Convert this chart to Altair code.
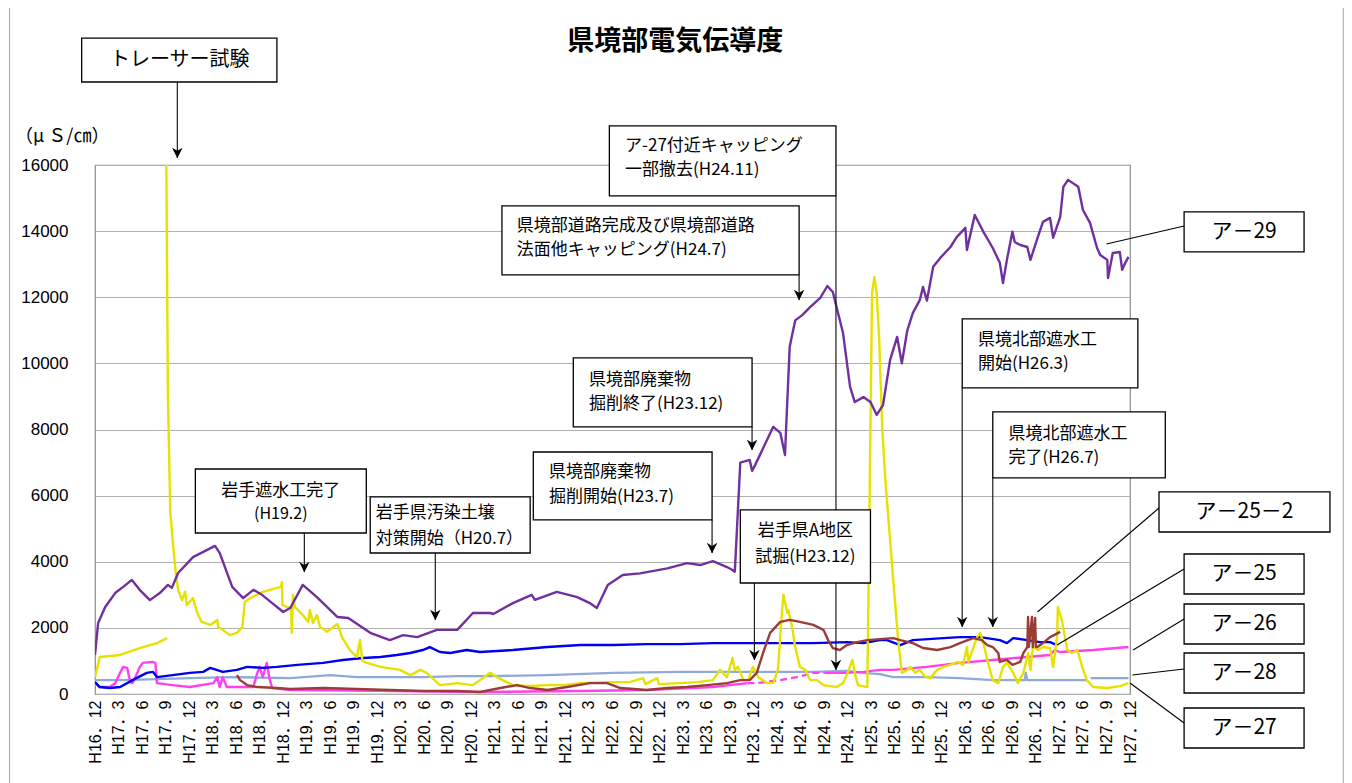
import altair as alt
import pandas as pd

# ---------------- data (month index: 0 = H16.12, step 1 month; values in µS/cm) -------------
TICK_LABELS = [
    "H16．12", "H17．3", "H17．6", "H17．9", "H17．12", "H18．3", "H18．6", "H18．9", "H18．12",
    "H19．3", "H19．6", "H19．9", "H19．12", "H20．3", "H20．6", "H20．9", "H20．12",
    "H21．3", "H21．6", "H21．9", "H21．12", "H22．3", "H22．6", "H22．9", "H22．12",
    "H23．3", "H23．6", "H23．9", "H23．12", "H24．3", "H24．6", "H24．9", "H24．12",
    "H25．3", "H25．6", "H25．9", "H25．12", "H26．3", "H26．6", "H26．9", "H26．12",
    "H27．3", "H27．6", "H27．9", "H27．12",
]
Y_TICKS = [0, 2000, 4000, 6000, 8000, 10000, 12000, 14000, 16000]

A29 = [(0, 1180), (0.4, 2150), (1.3, 2630), (2.6, 3060), (3.6, 3240), (4.7, 3450), (5.7, 3150),
       (7.0, 2840), (8.3, 3060), (9.3, 3300), (9.8, 3210), (10.6, 3660), (12.5, 4140), (15.3, 4480),
       (15.9, 4270), (17.5, 3240), (18.9, 2900), (20.2, 3150), (21.3, 3000), (22.6, 2750), (24.0, 2480),
       (24.9, 2600), (26.5, 3300), (28.3, 2930), (30.9, 2330), (32.3, 2300), (35.1, 1850), (37.6, 1630),
       (39.3, 1780), (41.1, 1720), (43.6, 1940), (46.2, 1940), (48.2, 2450), (50.4, 2450), (50.8, 2420),
       (53.3, 2750), (55.7, 3000), (56.1, 2850), (58.9, 3090), (61.5, 2930), (63.1, 2750), (64.0, 2600),
       (65.4, 3300), (67.3, 3600), (69.5, 3650), (73.0, 3800), (75.5, 3960), (77.2, 3900), (78.8, 4020),
       (80.6, 3840), (81.3, 3750), (81.6, 3700), (82.3, 7000), (83.5, 7080), (83.8, 6750), (84.2, 6930),
       (86.5, 8080), (87.4, 7900), (88.0, 7230), (88.3, 8900), (88.6, 10500), (89.3, 11300),
       (90.2, 11460), (91.2, 11700), (92.5, 11980), (93.4, 12340), (94.1, 12160), (95.4, 10920),
       (96.3, 9290), (96.9, 8830), (98.0, 8980), (98.9, 8830), (99.7, 8440), (100.5, 8740),
       (101.4, 10100), (102.3, 10800), (102.9, 10000), (103.6, 11000), (104.3, 11520), (105.2, 11920),
       (105.6, 12310), (106.1, 11900), (106.9, 12920), (107.8, 13190), (109.1, 13520), (109.9, 13820),
       (111.0, 14100), (111.2, 13430), (112.0, 14280), (112.2, 14490), (113.3, 13980), (114.5, 13490),
       (115.4, 13040), (115.8, 12430), (116.3, 13130), (117.0, 13980), (117.3, 13670), (118.0, 13580),
       (118.9, 13520), (119.3, 13130), (120.2, 13790), (120.9, 14280), (121.8, 14400), (122.2, 13800),
       (123.1, 14430), (123.5, 15340), (124.1, 15550), (125.4, 15340), (126.0, 14640), (126.9, 14250),
       (127.8, 13490), (128.2, 13280), (129.1, 13130), (129.2, 12580), (129.8, 13340), (130.7, 13370),
       (131.0, 12830), (131.4, 13040), (131.8, 13220)]

A27_PART1 = [(0, 510), (0.6, 1120), (3.2, 1180), (5.7, 1390), (7.9, 1540), (9.2, 1690)]
A27_PART2 = [(9.1, 16000), (9.3, 9000), (9.6, 5500), (9.9, 4660), (10.3, 3660), (10.6, 3150),
             (11.1, 2840), (11.5, 3090), (11.7, 2690), (12.5, 2900), (13.0, 2480), (13.6, 2180),
             (14.7, 2090), (15.6, 2240), (15.7, 2030), (16.3, 1940), (17.2, 1780), (18.1, 1850),
             (18.8, 2030), (19.1, 2780), (19.8, 2900), (21.4, 3090), (23.2, 3210), (23.7, 3240),
             (23.85, 3390), (23.9, 2700), (24.5, 2630), (25.0, 2600), (25.1, 1850), (25.25, 3000),
             (25.5, 2630), (26.5, 2390), (27.2, 2180), (27.4, 2540), (27.8, 2150), (28.3, 2390),
             (28.7, 2030), (29.6, 1880), (30.9, 2120), (31.5, 1720), (32.5, 1330), (33.4, 1120),
             (33.8, 1630), (34.1, 1000), (34.7, 940), (36.4, 820), (38.9, 730), (40.2, 570), (41.5, 730),
             (42.3, 640), (44.0, 270), (46.2, 330), (48.2, 270), (49.1, 420), (50.4, 640), (51.3, 510),
             (52.0, 420), (53.3, 270), (55.5, 240), (57.7, 270), (59.7, 270), (61.9, 330), (65.3, 360),
             (68.2, 360), (69.9, 480), (70.2, 300), (71.7, 480), (71.9, 300), (74.6, 330), (76.8, 360),
             (78.8, 420), (79.7, 730), (80.6, 510), (81.3, 1090), (81.6, 730), (82.0, 820), (82.7, 420),
             (83.3, 420), (83.9, 820), (84.6, 510), (85.7, 330), (86.5, 330), (87.1, 730), (87.6, 2450),
             (87.8, 3000), (88.3, 2450), (88.4, 2540), (88.9, 2030), (89.3, 1420), (89.9, 820),
             (90.6, 730), (91.2, 420), (92.1, 420), (92.9, 270), (94.6, 210), (95.4, 330), (96.0, 640),
             (96.6, 1030), (96.9, 640), (97.3, 270), (98.5, 210), (98.9, 8080), (99.1, 12130),
             (99.4, 12610), (99.7, 12100), (100.0, 10800), (100.4, 8080), (100.8, 6470), (101.8, 3450),
             (102.4, 1720), (102.9, 640), (103.6, 730), (104.0, 820), (104.6, 640), (105.2, 730),
             (105.9, 510), (106.5, 480), (107.4, 730), (108.2, 820), (109.1, 880), (110.0, 970),
             (110.7, 880), (111.2, 1420), (111.4, 970), (111.9, 1330), (112.5, 1720), (112.9, 1850),
             (113.3, 1540), (113.8, 1030), (114.5, 420), (115.2, 330), (115.8, 820), (116.3, 940),
             (117.1, 640), (117.7, 330), (118.4, 640), (119.0, 1240), (119.3, 730), (119.6, 1420),
             (120.3, 1330), (120.9, 1420), (121.8, 1390), (122.2, 820), (122.7, 1720), (122.8, 2630),
             (123.3, 2240), (124.0, 1330), (124.6, 1240), (125.3, 1330), (125.9, 820), (126.5, 420),
             (127.3, 210), (129.1, 180), (130.7, 240), (131.8, 330)]

A25_2 = [(18.1, 570), (18.5, 420), (19.4, 270), (20.7, 210), (23.2, 180), (24.9, 150), (29.1, 180),
         (33.4, 150), (37.6, 120), (41.8, 90), (46.2, 90), (49.1, 60), (51.7, 180), (53.8, 270),
         (55.5, 180), (57.7, 120), (60.2, 210), (63.1, 330), (65.3, 330), (67.0, 180), (70.4, 120),
         (73.0, 180), (75.5, 210), (78.1, 270), (80.6, 330), (82.3, 420), (83.5, 420), (84.4, 640),
         (85.2, 1240), (86.1, 1850), (87.4, 2180), (88.6, 2240), (89.9, 2180), (91.6, 2090),
         (92.9, 1940), (93.5, 1630), (94.1, 1390), (95.0, 1330), (95.9, 1480), (97.2, 1570),
         (98.5, 1630), (100.1, 1660), (101.8, 1690), (102.7, 1630), (104.3, 1540), (105.6, 1390),
         (107.4, 1330), (109.1, 1420), (110.3, 1540), (112.0, 1690), (113.1, 1630), (113.8, 1480),
         (114.5, 1420), (115.2, 1240), (115.4, 970), (116.3, 1030), (117.0, 880), (118.0, 970),
         (118.4, 1240), (118.9, 1420), (119.0, 2330), (119.1, 1420), (119.5, 2330), (119.6, 1420),
         (119.9, 2300), (120.0, 1420), (120.2, 1420), (120.9, 1540), (121.8, 1720), (123.1, 1880)]

A25 = [(0, 360), (0.6, 210), (1.9, 180), (3.2, 210), (4.8, 420), (6.6, 640), (7.4, 670), (7.9, 510),
       (9.9, 570), (12.1, 640), (13.8, 670), (14.7, 790), (16.3, 670), (18.1, 730), (19.4, 820),
       (21.4, 790), (23.2, 820), (25.8, 880), (29.1, 940), (31.6, 1030), (34.2, 1090), (36.4, 1120),
       (38.5, 1180), (40.2, 1240), (41.8, 1330), (42.7, 1420), (44.0, 1270), (45.3, 1240), (47.4, 1330),
       (49.1, 1270), (53.3, 1330), (57.7, 1420), (61.9, 1480), (66.1, 1480), (70.4, 1510), (74.6, 1510),
       (78.8, 1540), (83.2, 1540), (87.4, 1540), (91.6, 1540), (95.9, 1570), (98.0, 1540),
       (100.1, 1630), (101.0, 1630), (102.7, 1480), (104.3, 1630), (108.2, 1690), (110.3, 1720),
       (112.9, 1720), (115.4, 1630), (116.3, 1540), (117.1, 1690), (118.9, 1630), (120.5, 1570),
       (121.8, 1570), (122.7, 1480)]

A26_PART1 = [(0, 330), (0.6, 210), (1.9, 210), (2.6, 330), (3.2, 640), (3.6, 820), (4.1, 790),
             (4.5, 360), (4.8, 330), (5.4, 640), (5.7, 820), (6.1, 940), (7.3, 970), (7.7, 940),
             (7.9, 330), (9.9, 270), (12.1, 210), (15.1, 330), (15.6, 510), (15.9, 210), (16.3, 510),
             (16.8, 210), (17.6, 210), (20.2, 210), (20.7, 640), (21.0, 820), (21.4, 510), (21.9, 940),
             (22.3, 420), (22.6, 180), (24.9, 120), (36.4, 100), (49.1, 60), (61.9, 90), (70.4, 120),
             (78.8, 210), (83.2, 330)]
A26_DASHED = [(83.2, 330), (84.4, 330), (87.4, 420), (89.5, 510), (91.6, 640), (93.0, 640)]
A26_PART3 = [(93.0, 640), (95.9, 640), (98.0, 670), (100.1, 730), (101.8, 730), (106.1, 820),
             (110.3, 940), (114.5, 1030), (118.9, 1120), (121.8, 1180), (122.4, 1330), (123.1, 1270),
             (127.3, 1330), (131.8, 1420)]

A28_PART1 = [(0, 420), (3.6, 420), (7.9, 450), (12.1, 480), (17.2, 510), (24.9, 480), (30.0, 570),
             (33.4, 510), (37.6, 510), (41.8, 510), (46.2, 540), (50.4, 540), (57.7, 570), (66.1, 640),
             (74.6, 670), (83.2, 670), (87.4, 670), (91.6, 670), (95.9, 700), (98.0, 640), (100.1, 600),
             (101.8, 510), (106.1, 510), (110.3, 480), (114.5, 420), (118.6, 420), (118.7, 640),
             (118.9, 420), (123.1, 420), (126.5, 420)]
A28_PART2 = [(127.0, 480), (131.8, 480)]

# draw order (first = bottom)
SEGMENTS = [
    ("ア-28", A28_PART1, False), ("ア-28", A28_PART2, False),
    ("ア-26", A26_PART1, False), ("ア-26", A26_DASHED, True), ("ア-26", A26_PART3, False),
    ("ア-25", A25, False),
    ("ア-27", A27_PART1, False), ("ア-27", A27_PART2, False),
    ("ア-25-2", A25_2, False),
    ("ア-29", A29, False),
]
COLORS = {"ア-29": "#7030A0", "ア-27": "#E6E200", "ア-25-2": "#993D36",
          "ア-25": "#0000F0", "ア-26": "#FF3FF0", "ア-28": "#8EAADC"}

# ---------------- annotations (in axis units: month index, µS/cm) ----------------
BOXES = [(-1.7, 23.2, 19840, 18510), (12.8, 34.6, 6806, 4870), (35.1, 55.5, 5960, 4265),
         (55.9, 78.7, 7320, 5264), (61.0, 83.8, 10164, 8077), (51.9, 89.8, 14762, 12675),
         (65.6, 94.5, 17182, 15065), (82.3, 98.9, 5566, 3358), (110.6, 133.0, 11344, 9257),
         (114.5, 136.5, 8531, 6534)]
BOX_TEXT = [
    (10.8, 19180, "トレーサー試験", "center", 20),
    (23.7, 6140, "岩手遮水工完了", "center", 17),
    (23.7, 5445, "(H19.2)", "center", 16),
    (35.8, 5475, "岩手県汚染土壌", "left", 17),
    (35.8, 4690, "対策開始（H20.7）", "left", 17),
    (57.9, 6716, "県境部廃棄物", "left", 17),
    (57.9, 5960, "掘削開始(H23.7)", "left", 17),
    (63.0, 9500, "県境部廃棄物", "left", 17),
    (63.0, 8772, "掘削終了(H23.12)", "left", 17),
    (53.8, 14157, "県境部道路完成及び県境部道路", "left", 17),
    (53.8, 13431, "法面他キャッピング(H24.7)", "left", 17),
    (67.6, 16577, "ア-27付近キャッピング", "left", 17),
    (67.6, 15851, "一部撤去(H24.11)", "left", 17),
    (90.6, 4931, "岩手県A地区", "center", 17),
    (90.6, 4144, "試掘(H23.12)", "center", 17),
    (112.6, 10709, "県境北部遮水工", "left", 17),
    (112.6, 9983, "開始(H26.3)", "left", 17),
    (116.5, 7865, "県境北部遮水工", "left", 17),
    (116.5, 7139, "完了(H26.7)", "left", 17),
]
ARROWS = [(10.5, 18510, 16214), (26.7, 4870, 3690), (43.4, 4265, 2240), (78.7, 5264, 4265),
          (83.8, 8077, 7381), (89.8, 12675, 11919), (94.5, 15065, 726), (84.1, 3358, 1029),
          (110.6, 9257, 2027), (114.5, 6534, 2027)]

LEGEND_BOXES = [(138.9, 154.2, 14581, 13370, "ア－29"), (135.7, 157.5, 6111, 4900, "ア－25－2"),
                (138.9, 154.2, 4235, 3025, "ア－25"), (138.9, 154.2, 2722, 1512, "ア－26"),
                (138.9, 154.2, 1240, 30, "ア－28"), (138.9, 154.2, -424, -1634, "ア－27")]
LEADERS = [(138.9, 14157, 129.0, 13612), (135.7, 5627, 120.2, 2480), (138.9, 3781, 122.7, 1482),
           (138.9, 2269, 132.4, 1331), (138.9, 756, 132.3, 575), (138.9, -877, 132.0, 333)]
FRAME = [(-10.9, -2700, 20800), (159.2, -2700, 20800)]

TITLE = (74.0, 19723, "県境部電気伝導度")
UNIT = (-10.2, 16850, "（μ Ｓ/㎝）")

# ---------------- chart ----------------
JP = "Noto Sans CJK JP"
NUM = "Liberation Sans, Noto Sans CJK JP"

label_array = "[" + ",".join("'" + s + "'" for s in TICK_LABELS) + "]"
x_axis = alt.Axis(values=list(range(0, 133, 3)), labelExpr=label_array + "[round(datum.value / 3)]",
                  labelAngle=270, labelFontSize=16, labelFont=NUM, labelColor="black",
                  ticks=False, domain=False, grid=False, labelPadding=6, labelOverlap=False)
y_axis = alt.Axis(values=Y_TICKS, format="d", labelFontSize=17, labelFont=NUM, labelColor="black",
                  ticks=False, domain=False, grid=True, gridColor="#B0B0B0", gridWidth=1.2,
                  labelPadding=27)
xs = alt.Scale(domain=[0, 132], nice=False, zero=False)
ys = alt.Scale(domain=[0, 16000], nice=False)


def X(f):
    return alt.X(f, type="quantitative", scale=xs, axis=x_axis, title=None)


def Y(f):
    return alt.Y(f, type="quantitative", scale=ys, axis=y_axis, title=None)


layers = []
for name, pts, dashed in SEGMENTS:
    df = pd.DataFrame(pts, columns=["m", "v"])
    kw = dict(color=COLORS[name], strokeWidth=2.4, clip=True, strokeJoin="round")
    if dashed:
        kw["strokeDash"] = [7, 4]
    layers.append(alt.Chart(df).mark_line(**kw).encode(x=X("m"), y=Y("v")))

frame_df = pd.DataFrame(FRAME, columns=["m", "v1", "v2"])
layers.append(alt.Chart(frame_df).mark_rule(color="#A6A6A6", strokeWidth=1).encode(
    x=X("m"), y=Y("v1"), y2="v2"))

arrow_df = pd.DataFrame(ARROWS, columns=["m", "v1", "v2"])
layers.append(alt.Chart(arrow_df).mark_rule(color="#1a1a1a", strokeWidth=1.2).encode(
    x=X("m"), y=Y("v1"), y2="v2"))
layers.append(alt.Chart(arrow_df).mark_point(
    shape="M0,1 L-1,-1 L0,-0.4 L1,-1 Z", filled=True, color="black", opacity=1,
    size=110, yOffset=-5).encode(x=X("m"), y=Y("v2")))

box_df = pd.DataFrame(BOXES, columns=["m1", "m2", "v1", "v2"])
layers.append(alt.Chart(box_df).mark_rect(fill="white", stroke="black", strokeWidth=1.3).encode(
    x=X("m1"), x2="m2", y=Y("v1"), y2="v2"))

text_df = pd.DataFrame(BOX_TEXT, columns=["m", "v", "t", "align", "size"])
for al in ["left", "center"]:
    sub = text_df[text_df["align"] == al]
    layers.append(alt.Chart(sub).mark_text(align=al, baseline="middle", font=JP, color="black").encode(
        x=X("m"), y=Y("v"), text="t:N", size=alt.Size("size:Q", scale=None)))

lead_df = pd.DataFrame(LEADERS, columns=["m1", "v1", "m2", "v2"])
layers.append(alt.Chart(lead_df).mark_rule(color="black", strokeWidth=1.1).encode(
    x=X("m1"), y=Y("v1"), x2="m2", y2="v2"))

leg_df = pd.DataFrame(LEGEND_BOXES, columns=["m1", "m2", "v1", "v2", "t"])
leg_df["mc"] = (leg_df["m1"] + leg_df["m2"]) / 2
leg_df["vc"] = (leg_df["v1"] + leg_df["v2"]) / 2
layers.append(alt.Chart(leg_df).mark_rect(fill="white", stroke="black", strokeWidth=1.3).encode(
    x=X("m1"), x2="m2", y=Y("v1"), y2="v2"))
layers.append(alt.Chart(leg_df).mark_text(align="center", baseline="middle", font=JP, fontSize=21,
                                          color="black").encode(x=X("mc"), y=Y("vc"), text="t:N"))

title_df = pd.DataFrame([TITLE], columns=["m", "v", "t"])
layers.append(alt.Chart(title_df).mark_text(align="center", baseline="middle", font=JP, fontSize=27,
                                            fontWeight="bold", color="black").encode(
    x=X("m"), y=Y("v"), text="t:N"))
unit_df = pd.DataFrame([UNIT], columns=["m", "v", "t"])
layers.append(alt.Chart(unit_df).mark_text(align="left", baseline="middle", font=JP, fontSize=18,
                                           color="black").encode(x=X("m"), y=Y("v"), text="t:N"))

chart = alt.layer(*layers).properties(
    width=1035, height=529,
    autosize=alt.AutoSizeParams(type="none"),
    padding={"left": 87, "top": 157, "right": 214, "bottom": 89},
    background="white",
).configure_view(stroke="#8C8C8C", strokeWidth=1.2)

chart.save("out.html", embed_options={"renderer": "svg", "actions": False})
